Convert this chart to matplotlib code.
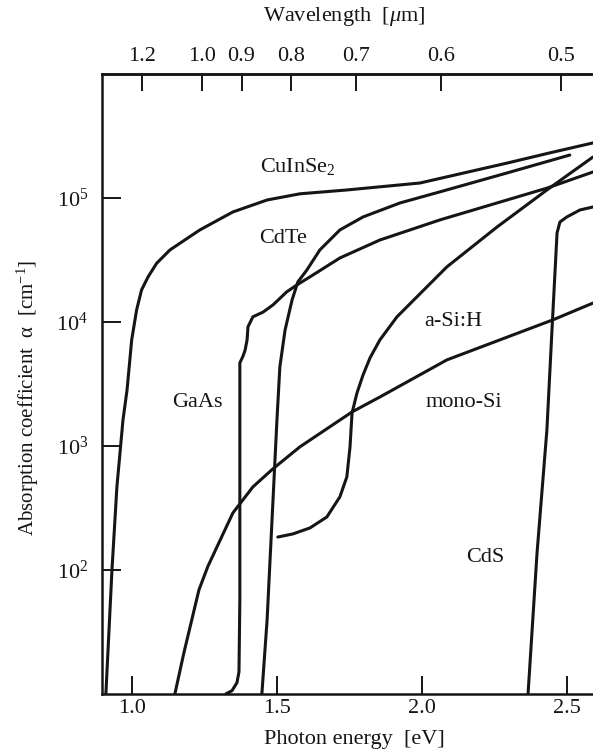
import matplotlib.pyplot as plt
from matplotlib.ticker import NullLocator

plt.rcParams['font.family'] = ['Liberation Serif', 'DejaVu Serif']
plt.rcParams['mathtext.fontset'] = 'custom'
plt.rcParams['mathtext.rm'] = 'Liberation Serif'
plt.rcParams['mathtext.it'] = 'Liberation Serif:italic'
plt.rcParams['mathtext.bf'] = 'Liberation Serif:bold'

# photon energy [eV] and absorption coefficient [cm^-1]
cuinse2_e = [0.910, 0.931, 0.948, 0.969, 0.983, 0.999, 1.016, 1.033, 1.056, 1.085,
             1.131, 1.234, 1.348, 1.466, 1.579, 1.741, 1.993, 2.293, 2.441, 2.590]
cuinse2_a = [10, 100, 467, 1620, 2830, 7160, 1.25e4, 1.81e4, 2.32e4, 2.97e4,
             3.81e4, 5.52e4, 7.71e4, 9.63e4, 1.08e5, 1.16e5, 1.32e5, 1.91e5, 2.31e5, 2.78e5]

cdte_e = [1.448, 1.466, 1.483, 1.500, 1.510, 1.528, 1.552, 1.572, 1.603, 1.648,
          1.717, 1.797, 1.924, 2.062, 2.293, 2.510]
cdte_a = [10, 39.5, 253, 1620, 4340, 8610, 1.50e4, 2.10e4, 2.62e4, 3.81e4,
          5.52e4, 7.03e4, 9.11e4, 1.12e5, 1.59e5, 2.22e5]

gaas_e = [1.324, 1.345, 1.362, 1.369, 1.372, 1.372, 1.372, 1.383, 1.390, 1.397, 1.400,
          1.417, 1.452, 1.486, 1.534, 1.569, 1.624, 1.717, 1.855, 2.062, 2.431, 2.590]
gaas_a = [10, 10.6, 12.3, 15.0, 57.3, 1345, 4670, 5300, 5900, 7160, 9120,
          1.10e4, 1.20e4, 1.37e4, 1.75e4, 1.99e4, 2.39e4, 3.28e4, 4.58e4, 6.65e4, 1.20e5, 1.62e5]

asih_e = [1.503, 1.555, 1.614, 1.672, 1.717, 1.741, 1.752, 1.759, 1.776, 1.797,
          1.821, 1.855, 1.914, 2.086, 2.259, 2.431, 2.590]
asih_a = [184, 195, 218, 267, 388, 562, 982, 1845, 2670, 3740,
          5130, 7160, 1.10e4, 2.78e4, 5.83e4, 1.16e5, 2.14e5]

monosi_e = [1.148, 1.179, 1.231, 1.262, 1.293, 1.348, 1.417, 1.486, 1.579, 1.759, 1.855,
            2.086, 2.452, 2.590]
monosi_a = [10, 21.4, 69, 107, 153, 288, 467, 653, 982, 1880, 2480,
            4940, 1.04e4, 1.42e4]

cds_e = [2.366, 2.397, 2.431, 2.448, 2.466, 2.476, 2.500, 2.545, 2.590]
cds_a = [10, 137, 1345, 8150, 5.22e4, 6.40e4, 7.03e4, 8.00e4, 8.46e4]

energy_ticks = [1.0, 1.5, 2.0, 2.5]
wavelength_ticks = [1.2, 1.0, 0.9, 0.8, 0.7, 0.6, 0.5]
alpha_exponents = [2, 3, 4, 5]

ink = '#151515'

fig = plt.figure(figsize=(5.93, 7.55), dpi=100)
ax = fig.add_axes([0.172, 0.081, 0.828, 0.821])

curves = [(cuinse2_e, cuinse2_a), (cdte_e, cdte_a), (gaas_e, gaas_a),
          (asih_e, asih_a), (monosi_e, monosi_a), (cds_e, cds_a)]
for e, a in curves:
    ax.plot(e, a, color=ink, lw=2.2, solid_joinstyle='round', solid_capstyle='round')

ax.set_yscale('log')
ax.set_xlim(0.8966, 2.59)
ax.set_ylim(10, 1e6)

ax.set_xticks(energy_ticks)
ax.set_xticklabels([f'{v:.1f}' for v in energy_ticks])
ax.set_yticks([10.0 ** p for p in alpha_exponents])
ax.set_yticklabels([r'$\mathregular{10^{%d}}$' % p for p in alpha_exponents])
ax.yaxis.set_minor_locator(NullLocator())
ax.xaxis.set_minor_locator(NullLocator())
ax.tick_params(axis='x', direction='in', length=13, width=1.4, labelsize=16, pad=4, colors=ink)
ax.tick_params(axis='y', direction='in', length=14, width=1.4, labelsize=16, pad=10, colors=ink)

for side in ['left', 'bottom', 'top']:
    ax.spines[side].set_linewidth(1.8)
    ax.spines[side].set_color(ink)
ax.spines['right'].set_visible(False)

# wavelength scale on top, lambda = 1.24 / E
secax = ax.secondary_xaxis('top', functions=(lambda e: 1.24 / e, lambda w: 1.24 / w))
secax.set_xticks(wavelength_ticks)
secax.set_xticklabels([f'{v:.1f}' for v in wavelength_ticks])
secax.xaxis.set_minor_locator(NullLocator())
secax.tick_params(direction='in', length=12, width=1.4, labelsize=16, pad=6, colors=ink)
secax.spines['top'].set_linewidth(1.8)
secax.spines['top'].set_color(ink)
ax.text(0.493, 1.074, r'Wavelength  [$\mu$m]', fontsize=16, color=ink,
        ha='center', va='bottom', transform=ax.transAxes)

ax.set_xlabel('Photon energy  [eV]', fontsize=16, color=ink)
ax.xaxis.set_label_coords(0.515, -0.058)
ax.set_ylabel(r'Absorption coefficient  $\mathregular{\alpha}$  [cm$\mathregular{^{-1}}$]',
              fontsize=15, color=ink)
ax.yaxis.set_label_coords(-0.125, 0.477)

labels = [('CuInSe$_2$', 1.572, 1.78e5), ('CdTe', 1.521, 4.75e4), ('a-Si:H', 2.107, 1.0e4),
          ('mono-Si', 2.145, 2220), ('GaAs', 1.224, 2220), ('CdS', 2.217, 127)]
for name, e, a in labels:
    ax.text(e, a, name, fontsize=16, color=ink, ha='center', va='center')

fig.savefig('out.png', dpi=100)
